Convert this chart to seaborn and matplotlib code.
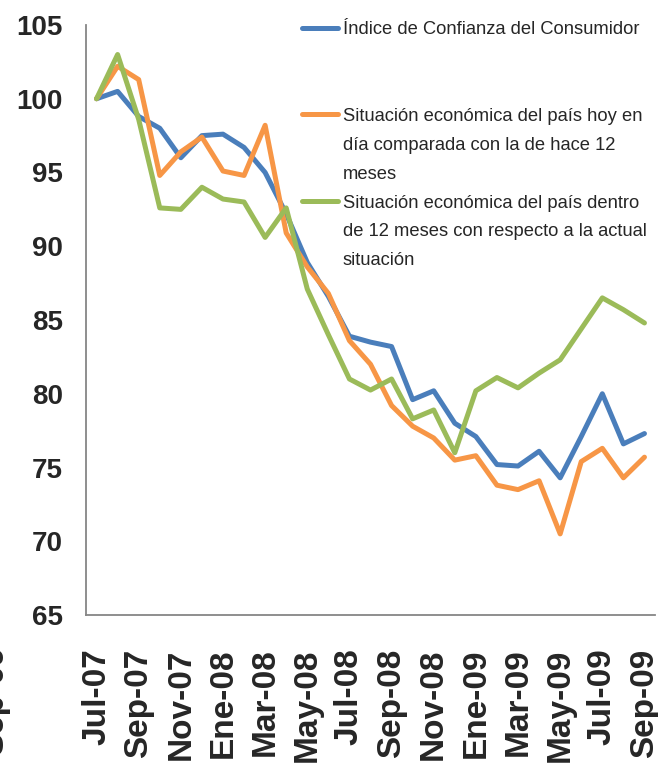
import matplotlib
matplotlib.use("Agg")
import matplotlib.pyplot as plt
from matplotlib.lines import Line2D
import numpy as np
import pandas as pd
import seaborn as sns

# Data
meses = ["Jul-07", "Ago-07", "Sep-07", "Oct-07", "Nov-07", "Dic-07", "Ene-08", "Feb-08", "Mar-08",
         "Abr-08", "May-08", "Jun-08", "Jul-08", "Ago-08", "Sep-08", "Oct-08", "Nov-08", "Dic-08",
         "Ene-09", "Feb-09", "Mar-09", "Abr-09", "May-09", "Jun-09", "Jul-09", "Ago-09", "Sep-09"]
indice = [100.0, 100.5, 98.8, 98.0, 96.0, 97.5, 97.6, 96.7, 95.0, 92.2, 88.9, 86.6, 83.9, 83.5,
          83.2, 79.6, 80.2, 78.0, 77.1, 75.2, 75.1, 76.1, 74.3, 77.1, 80.0, 76.6, 77.3]
hoy = [100.0, 102.2, 101.3, 94.8, 96.4, 97.4, 95.1, 94.8, 98.2, 90.9, 88.6, 86.8, 83.6, 82.0,
       79.2, 77.8, 77.0, 75.5, 75.8, 73.8, 73.5, 74.1, 70.5, 75.4, 76.3, 74.3, 75.7]
futuro = [100.0, 103.0, 98.6, 92.6, 92.5, 94.0, 93.2, 93.0, 90.6, 92.6, 87.1, 84.0, 81.0, 80.25,
          81.0, 78.3, 78.9, 76.0, 80.2, 81.1, 80.4, 81.4, 82.3, 84.4, 86.5, 85.7, 84.8]
series = ["Índice de Confianza del Consumidor",
          "Situación económica del país hoy en día comparada con la de hace 12 meses",
          "Situación económica del país dentro de 12 meses con respecto a la actual situación"]
colores = ["#4A7EBB", "#F79646", "#9BBB59"]

# Tidy data
df = pd.DataFrame({"mes": range(len(meses)), series[0]: indice, series[1]: hoy, series[2]: futuro})
df = pd.melt(df, id_vars="mes", var_name="serie", value_name="valor")

sns.set_style("white")
plt.rcParams["font.family"] = ["Liberation Sans", "DejaVu Sans"]

fig = plt.figure(figsize=(6.58, 7.73), dpi=100)
ax = fig.add_axes([86 / 658, 1 - 615 / 773, (655 - 86) / 658, (615 - 25) / 773])
sns.lineplot(data=df, x="mes", y="valor", hue="serie", palette=colores, linewidth=3.6,
             legend=False, ax=ax)

ax.set_xlim(-0.5, len(meses) - 0.5)
ax.set_ylim(65, 105)
ax.set_yticks(np.arange(65, 106, 5))
ax.set_xlabel("")
ax.set_ylabel("")

for s in ["top", "right"]:
    ax.spines[s].set_visible(False)
for s in ["left", "bottom"]:
    ax.spines[s].set_color("#868686")
    ax.spines[s].set_linewidth(1.3)

ax.tick_params(axis="y", direction="out", length=6, width=1, color="#868686", pad=10.5,
               labelsize=20)
for t in ax.get_yticklabels():
    t.set_fontweight("bold")

ax.set_xticks(np.arange(-0.5, len(meses) - 1, 2))
ax.set_xticklabels([])
ax.tick_params(axis="x", which="major", direction="out", length=7, width=1, color="#868686")
ax.set_xticks(np.arange(0, len(meses), 2), minor=True)
ax.set_xticklabels(meses[::2], minor=True, rotation=90, fontsize=24, fontweight="bold")
ax.tick_params(axis="x", which="minor", length=0, pad=24)

# Legend (wrapped like the original)
h = [Line2D([], [], color=c, lw=3.6) for c in colores]
blank = Line2D([], [], color="none")
handles = [h[0], blank, blank, h[1], blank, blank, h[2], blank, blank]
labels = [series[0], "", "",
          "Situación económica del país hoy en", "día comparada con la de hace 12", "meses",
          "Situación económica del país dentro", "de 12 meses con respecto a la actual", "situación"]
fig.legend(handles, labels, loc="upper left", bbox_to_anchor=(302 / 658, 1 - 21 / 773),
           frameon=False, borderpad=0, borderaxespad=0, handlelength=1.95, handletextpad=0.27,
           labelspacing=0.65, prop={"size": 13.2})

# clipped label at the far left edge
fig.text(-5 / 658, 1 - 700 / 773, "Sep-09", rotation=90, ha="center", va="center",
         fontsize=24, fontweight="bold")

fig.savefig("out.png", dpi=100)
plt.close("all")
